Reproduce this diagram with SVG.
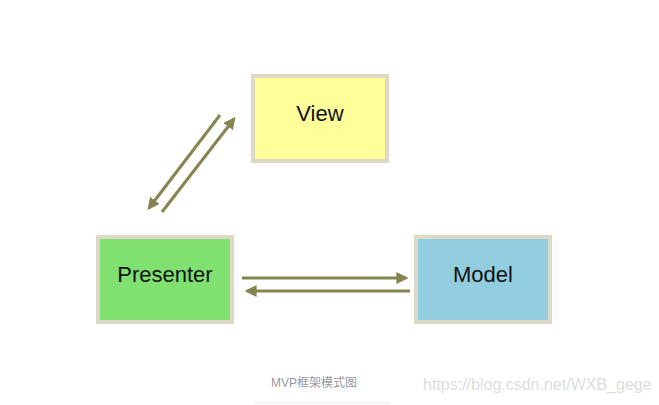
<svg xmlns="http://www.w3.org/2000/svg" width="659" height="405" viewBox="0 0 659 405">
  <defs>
    <style>
      .box { stroke: #dcd9c6; stroke-width: 4; }
      .lbl { font-family: "Liberation Sans", Arial, sans-serif; font-size: 22px; fill: #111; text-anchor: middle; }
      .conn { stroke: #858550; stroke-width: 3; fill: none; marker-end: url(#ah); }
    </style>
    <marker id="ah" viewBox="0 0 10 10" refX="8" refY="5" markerWidth="4" markerHeight="4" orient="auto" markerUnits="strokeWidth">
      <path d="M0,0 L10,5 L0,10 z" fill="#858550"/>
    </marker>
  </defs>
  <rect width="659" height="405" fill="#ffffff"/>
  <g id="view">
    <rect class="box" x="253" y="76" width="134" height="85" fill="#ffff99"/>
    <text class="lbl" x="320" y="121">View</text>
  </g>
  <g id="presenter">
    <rect class="box" x="98" y="237" width="134" height="85" fill="#80e070"/>
    <text class="lbl" x="165" y="282">Presenter</text>
  </g>
  <g id="model">
    <rect class="box" x="416" y="237" width="134" height="85" fill="#92cddf"/>
    <text class="lbl" x="483" y="282">Model</text>
  </g>
  <g id="connectors">
    <line class="conn" x1="220" y1="115" x2="149" y2="208"/>
    <line class="conn" x1="162" y1="212" x2="234" y2="119"/>
    <line class="conn" x1="242" y1="278" x2="406" y2="278"/>
    <line class="conn" x1="410" y1="291" x2="247" y2="291"/>
  </g>
  <text x="314" y="387" font-family="'Liberation Sans', 'Noto Sans CJK SC', sans-serif" font-size="12" fill="#999999" text-anchor="middle">MVP框架模式图</text>
  <line x1="254" y1="403" x2="390" y2="403" stroke="#e8e8e8" stroke-width="1"/>
  <text x="423" y="390" font-family="'Liberation Sans', Arial, sans-serif" font-size="16" fill="#dddddd">https://blog.csdn.net/WXB_gege</text>
</svg>
